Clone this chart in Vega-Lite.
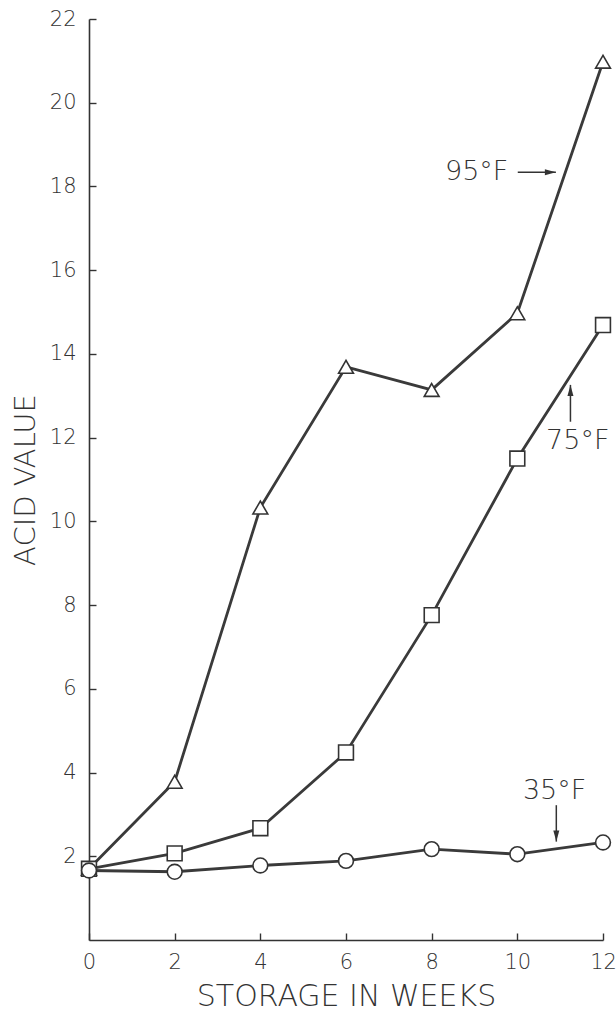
{
  "$schema": "https://vega.github.io/schema/vega-lite/v6.json",
  "width": 514,
  "height": 921,
  "autosize": "none",
  "padding": {"left": 89, "top": 19, "right": 13, "bottom": 73},
  "background": "white",
  "config": {
    "view": {"stroke": null},
    "font": "DejaVu Sans",
    "axis": {
      "grid": false,
      "domainColor": "#333333",
      "domainWidth": 1.6,
      "tickColor": "#333333",
      "tickWidth": 1.4,
      "tickSize": -7,
      "labelFont": "DejaVu Sans",
      "labelFontSize": 21,
      "labelColor": "#333333",
      "labelFontWeight": 300,
      "labelFlush": false,
      "labelOverlap": false,
      "titleFont": "DejaVu Sans",
      "titleFontWeight": 300,
      "titleColor": "#333333"
    }
  },
  "datasets": {
    "acid": [
      {"series": "95°F", "week": 0, "acid": 1.7},
      {"series": "95°F", "week": 2, "acid": 3.78},
      {"series": "95°F", "week": 4, "acid": 10.33},
      {"series": "95°F", "week": 6, "acid": 13.69},
      {"series": "95°F", "week": 8, "acid": 13.14},
      {"series": "95°F", "week": 10, "acid": 14.97},
      {"series": "95°F", "week": 12, "acid": 20.98},
      {"series": "75°F", "week": 0, "acid": 1.7},
      {"series": "75°F", "week": 2, "acid": 2.07},
      {"series": "75°F", "week": 4, "acid": 2.67},
      {"series": "75°F", "week": 6, "acid": 4.48},
      {"series": "75°F", "week": 8, "acid": 7.76},
      {"series": "75°F", "week": 10, "acid": 11.5},
      {"series": "75°F", "week": 12, "acid": 14.69},
      {"series": "35°F", "week": 0, "acid": 1.66},
      {"series": "35°F", "week": 2, "acid": 1.63},
      {"series": "35°F", "week": 4, "acid": 1.78},
      {"series": "35°F", "week": 6, "acid": 1.89},
      {"series": "35°F", "week": 8, "acid": 2.17},
      {"series": "35°F", "week": 10, "acid": 2.05},
      {"series": "35°F", "week": 12, "acid": 2.33}
    ],
    "labels": [
      {"series": "95°F", "week": 9.05, "acid": 18.34},
      {"series": "75°F", "week": 11.41, "acid": 11.92},
      {"series": "35°F", "week": 10.87, "acid": 3.56}
    ],
    "arrows": [
      {"series": "95°F", "dir": "right", "week": 10.01, "acid": 18.34, "week2": 10.9, "acid2": 18.34},
      {"series": "75°F", "dir": "up", "week": 11.24, "acid": 12.38, "week2": 11.24, "acid2": 13.26},
      {"series": "35°F", "dir": "down", "week": 10.91, "acid": 3.22, "week2": 10.91, "acid2": 2.35}
    ]
  },
  "layer": [
    {
      "data": {"name": "acid"},
      "mark": {"type": "line", "color": "#3a3a3a", "strokeWidth": 2.8},
      "encoding": {
        "x": {
          "field": "week", "type": "quantitative",
          "scale": {"domain": [0, 12], "nice": false},
          "axis": {"values": [0, 2, 4, 6, 8, 10, 12], "labelPadding": 18, "title": "STORAGE IN WEEKS", "titleFontSize": 30, "titlePadding": 9}
        },
        "y": {
          "field": "acid", "type": "quantitative",
          "scale": {"domain": [0, 22], "nice": false},
          "axis": {"values": [2, 4, 6, 8, 10, 12, 14, 16, 18, 20, 22], "labelPadding": 20, "title": "ACID VALUE", "titleFontSize": 29, "titlePadding": 9}
        },
        "detail": {"field": "series"}
      }
    },
    {
      "data": {"name": "acid"},
      "mark": {"type": "point", "filled": false, "fill": "white", "fillOpacity": 1, "stroke": "#333333", "strokeWidth": 1.6, "size": 220, "opacity": 1},
      "encoding": {
        "x": {"field": "week", "type": "quantitative"},
        "y": {"field": "acid", "type": "quantitative"},
        "shape": {
          "field": "series", "type": "nominal",
          "scale": {"domain": ["95°F", "75°F", "35°F"], "range": ["triangle-up", "square", "circle"]},
          "legend": null
        }
      }
    },
    {
      "data": {"name": "labels"},
      "mark": {"type": "text", "font": "DejaVu Sans", "fontWeight": 300, "fontSize": 27, "color": "#333333", "align": "center", "baseline": "middle"},
      "encoding": {
        "x": {"field": "week", "type": "quantitative"},
        "y": {"field": "acid", "type": "quantitative"},
        "text": {"field": "series"}
      }
    },
    {
      "data": {"name": "arrows"},
      "mark": {"type": "rule", "color": "#333333", "strokeWidth": 1.5},
      "encoding": {
        "x": {"field": "week", "type": "quantitative"},
        "y": {"field": "acid", "type": "quantitative"},
        "x2": {"field": "week2"},
        "y2": {"field": "acid2"}
      }
    },
    {
      "data": {"name": "arrows"},
      "mark": {"type": "point", "filled": true, "color": "#333333", "size": 100, "opacity": 1},
      "encoding": {
        "x": {"field": "week2", "type": "quantitative"},
        "y": {"field": "acid2", "type": "quantitative"},
        "shape": {
          "field": "dir", "type": "nominal",
          "scale": {
            "domain": ["up", "down", "right"],
            "range": ["M0,0 L-0.6,2.2 L0.6,2.2 Z", "M0,0 L-0.6,-2.2 L0.6,-2.2 Z", "M0,0 L-2.2,-0.6 L-2.2,0.6 Z"]
          },
          "legend": null
        }
      }
    }
  ],
  "resolve": {"scale": {"shape": "independent"}}
}
